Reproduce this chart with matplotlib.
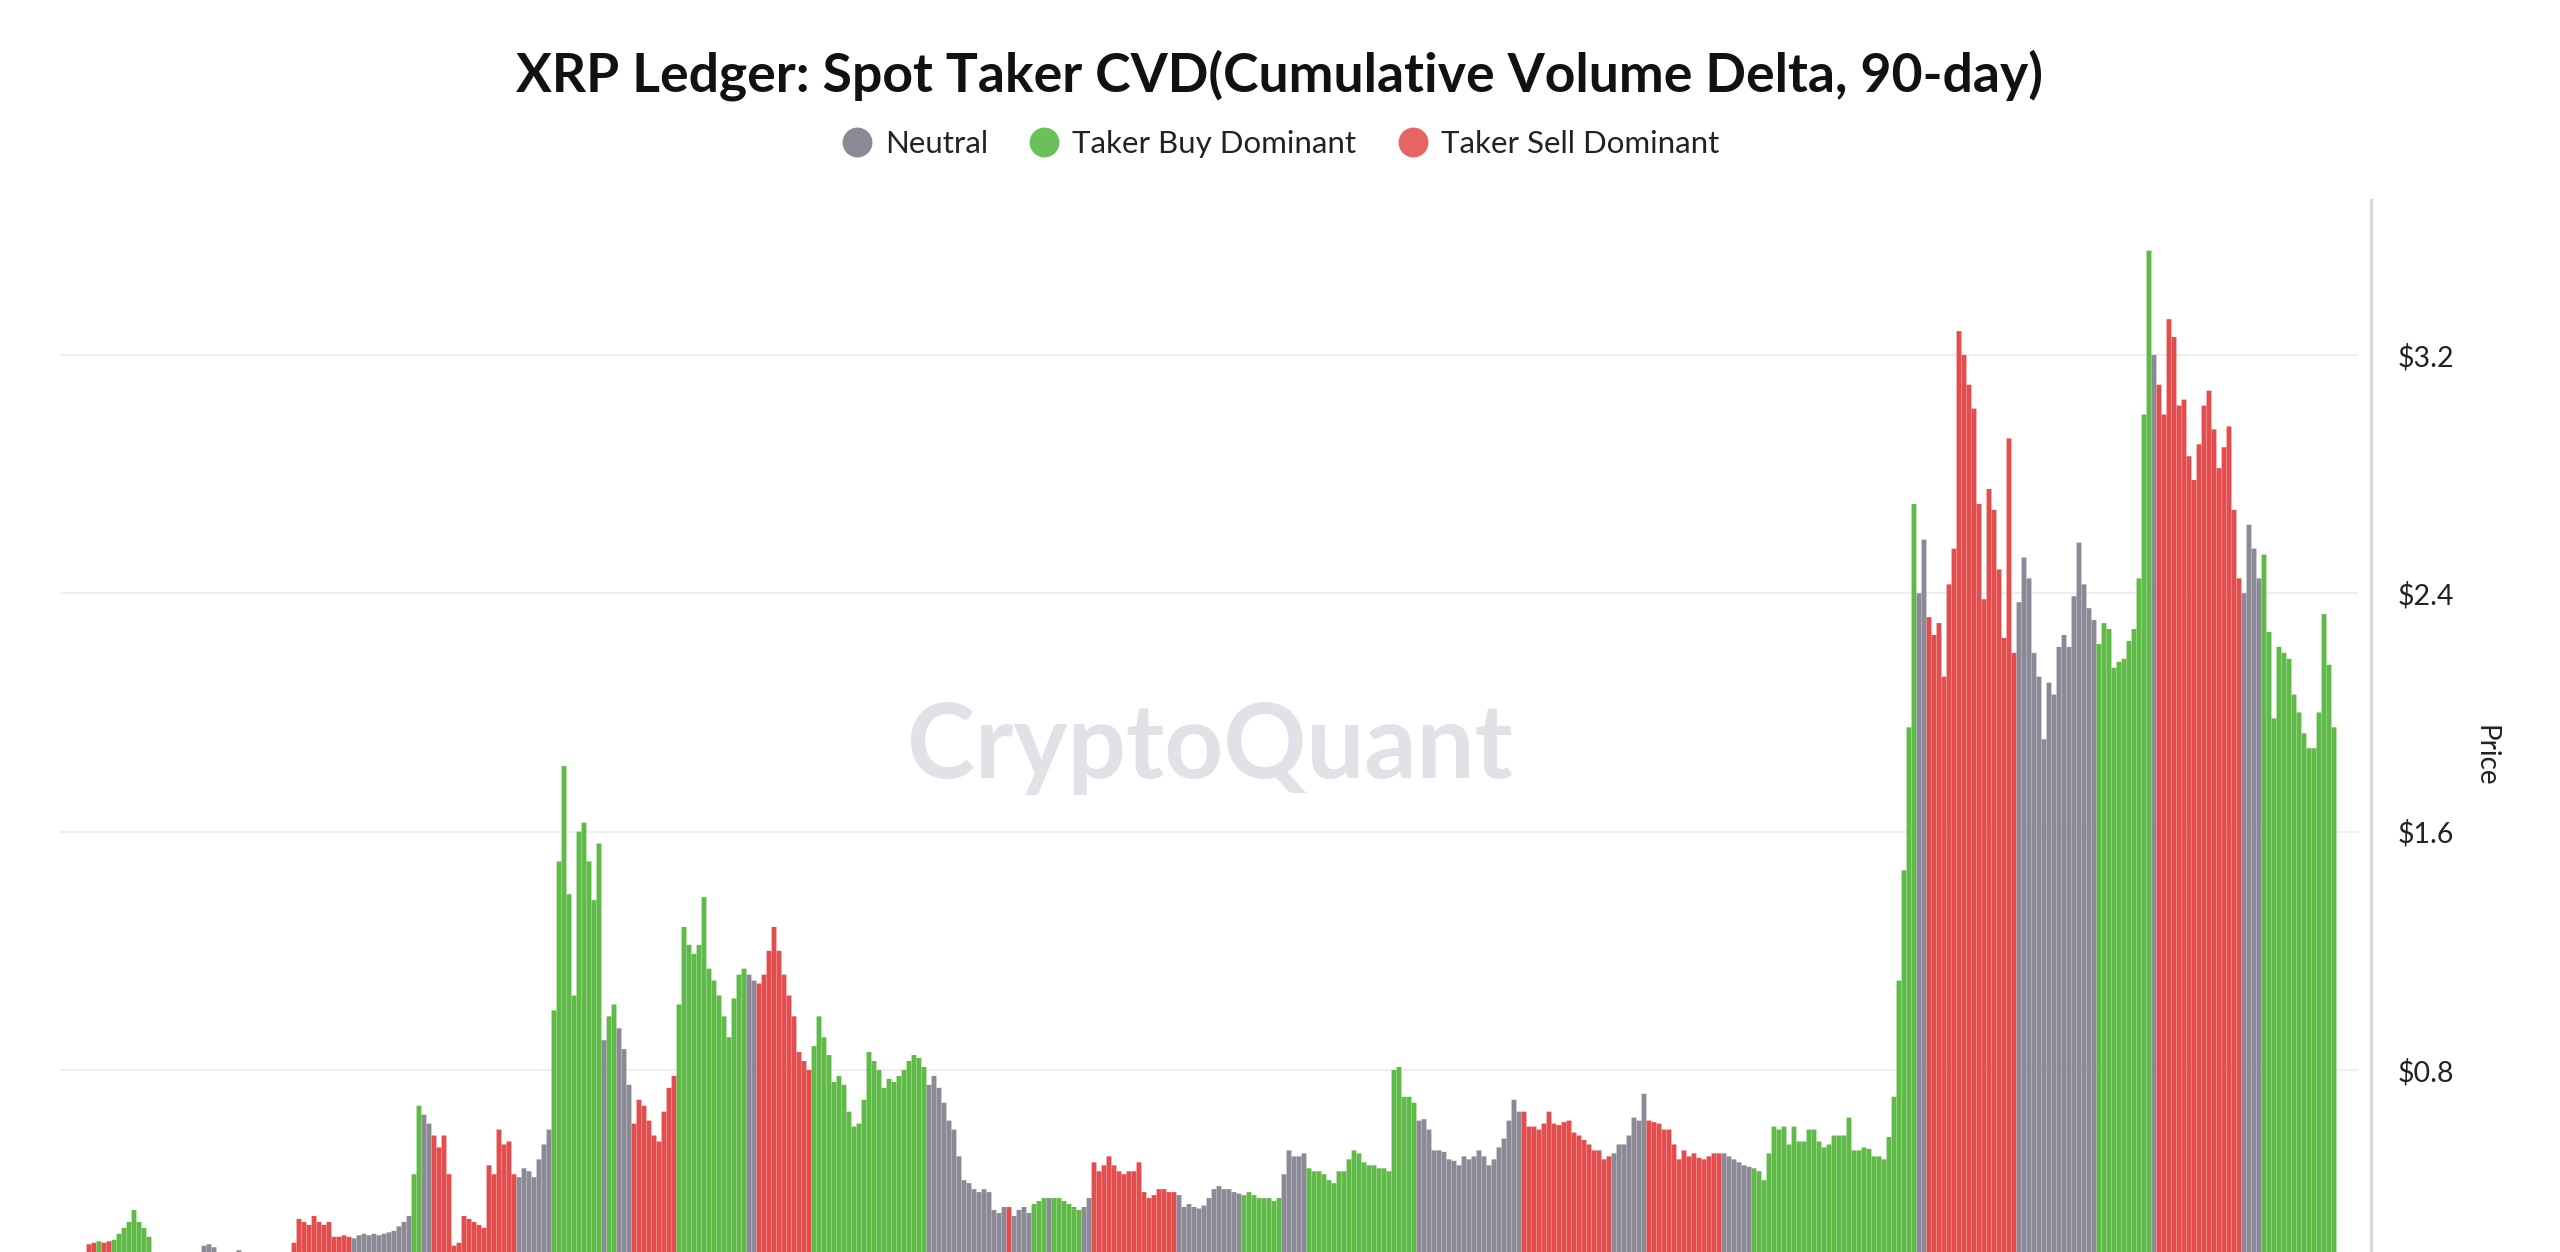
import matplotlib
matplotlib.use('Agg')
import matplotlib.pyplot as plt
from matplotlib.lines import Line2D

plt.rcParams['font.family'] = ['Lato', 'DejaVu Sans']

title = 'XRP Ledger: Spot Taker CVD(Cumulative Volume Delta, 90-day)'
legend_labels = ['Neutral', 'Taker Buy Dominant', 'Taker Sell Dominant']
price_ticks = [0.8, 1.6, 2.4, 3.2]
tick_labels = ['\\$0.8', '\\$1.6', '\\$2.4', '\\$3.2']

# regime of each bar, run-length: N = neutral, B = taker buy, S = taker sell
regime_runs = [
    ('S', 2), ('B', 1), ('S', 2), ('B', 8), ('N', 28), ('S', 12), ('N', 12),
    ('B', 2), ('N', 2), ('S', 17), ('N', 7), ('B', 10), ('N', 1), ('B', 2),
    ('N', 3), ('S', 9), ('B', 14), ('N', 2), ('S', 11), ('B', 23), ('N', 16),
    ('S', 1), ('N', 4), ('B', 3), ('N', 1), ('B', 6), ('N', 2), ('S', 17),
    ('N', 13), ('B', 8), ('N', 5), ('B', 22), ('N', 21), ('S', 18), ('N', 7),
    ('S', 15), ('N', 6), ('B', 33), ('N', 2), ('S', 18), ('N', 16), ('B', 11),
    ('N', 1), ('S', 17), ('N', 4), ('B', 15),
]

# XRP price (USD) per bar
xrp_price = [
    0.215, 0.22, 0.225, 0.22, 0.225,
    0.23, 0.25, 0.27, 0.29, 0.33, 0.29, 0.27, 0.24,
    0.18, 0.17, 0.17, 0.16, 0.16, 0.17, 0.175, 0.18, 0.17, 0.18,
    0.21, 0.215, 0.205,
    0.18, 0.18, 0.175, 0.18, 0.195, 0.18, 0.17, 0.17, 0.165, 0.17, 0.175, 0.18, 0.18, 0.175, 0.185,
    0.22, 0.30, 0.29, 0.28, 0.31, 0.29, 0.28, 0.29, 0.24, 0.24, 0.245, 0.24,
    0.235, 0.245, 0.25, 0.245, 0.25, 0.245, 0.25, 0.255, 0.26, 0.275, 0.29, 0.31,
    0.45, 0.68,
    0.65, 0.62,
    0.58, 0.54, 0.58, 0.45, 0.21, 0.22, 0.31, 0.30, 0.29, 0.28, 0.27,
    0.48, 0.45, 0.60, 0.55, 0.56, 0.45,
    0.44, 0.47, 0.46, 0.44, 0.50, 0.55, 0.60,
    1.00, 1.50, 1.82, 1.39, 1.05, 1.60, 1.63, 1.50, 1.37, 1.56,
    0.90, 0.98, 1.02, 0.94, 0.87, 0.75,
    0.62, 0.70, 0.68, 0.63, 0.58, 0.56, 0.66, 0.74, 0.78,
    1.02, 1.28, 1.22, 1.19, 1.22, 1.38, 1.14, 1.10, 1.05, 0.98, 0.91, 1.04, 1.12, 1.14,
    1.12, 1.10,
    1.09, 1.12, 1.20, 1.28, 1.20, 1.12, 1.05, 0.98, 0.86, 0.83, 0.80,
    0.88, 0.98, 0.91, 0.85, 0.76, 0.78, 0.75, 0.66, 0.61, 0.62, 0.70, 0.86,
    0.83, 0.80, 0.74, 0.77, 0.76, 0.78, 0.80, 0.83, 0.85, 0.84, 0.81,
    0.75, 0.78, 0.74, 0.69, 0.63, 0.60, 0.51, 0.43, 0.42, 0.40, 0.39, 0.40, 0.39, 0.33, 0.32, 0.34,
    0.34,
    0.31, 0.33, 0.34, 0.32,
    0.35, 0.36, 0.37,
    0.37,
    0.37, 0.37, 0.36, 0.35, 0.34, 0.33,
    0.34, 0.37,
    0.49, 0.46, 0.48, 0.51, 0.48, 0.46, 0.45, 0.46, 0.46, 0.49, 0.39, 0.37, 0.38, 0.40, 0.40, 0.39, 0.39,
    0.38, 0.34, 0.35, 0.34, 0.335, 0.345, 0.37, 0.40, 0.41, 0.40, 0.40, 0.39, 0.385,
    0.38, 0.39, 0.38, 0.37, 0.37, 0.37, 0.36, 0.37,
    0.45, 0.53, 0.51, 0.51, 0.52,
    0.47, 0.46, 0.46, 0.45, 0.43, 0.42, 0.46, 0.46, 0.50, 0.53, 0.52, 0.49, 0.48, 0.48, 0.47, 0.47, 0.46,
    0.80, 0.81, 0.71, 0.71, 0.69,
    0.63, 0.635, 0.60, 0.53, 0.53, 0.525, 0.50, 0.495, 0.48, 0.51, 0.50, 0.51, 0.53, 0.51, 0.48, 0.50,
    0.54, 0.57, 0.63, 0.70, 0.66,
    0.66, 0.61, 0.61, 0.60, 0.62, 0.66, 0.62, 0.615, 0.625, 0.63, 0.59, 0.58, 0.565, 0.55, 0.53, 0.53, 0.50, 0.51,
    0.52, 0.55, 0.55, 0.58, 0.64, 0.63, 0.72,
    0.63, 0.625, 0.62, 0.60, 0.60, 0.55, 0.50, 0.53, 0.51, 0.52, 0.505, 0.50, 0.51, 0.52, 0.52,
    0.52, 0.51, 0.50, 0.49, 0.48, 0.475,
    0.47, 0.46, 0.43, 0.52, 0.61, 0.60, 0.61, 0.55, 0.61, 0.56, 0.56, 0.60, 0.60, 0.56, 0.54, 0.55,
    0.58, 0.58, 0.58, 0.64, 0.53, 0.53, 0.54, 0.535, 0.51, 0.51, 0.50, 0.575, 0.71,
    1.10, 1.47, 1.95, 2.70,
    2.40, 2.58,
    2.32, 2.26, 2.30, 2.12, 2.43, 2.55, 3.28, 3.20, 3.10, 3.02, 2.70, 2.38, 2.75, 2.68, 2.48, 2.25, 2.92, 2.20,
    2.37, 2.52, 2.45, 2.20, 2.12, 1.91, 2.10, 2.06, 2.22, 2.26, 2.22, 2.39, 2.57, 2.43, 2.35, 2.31,
    2.23, 2.30, 2.28, 2.15, 2.17, 2.18, 2.24, 2.28, 2.45, 3.00, 3.55,
    3.20,
    3.10, 3.00, 3.32, 3.26, 3.03, 3.05, 2.86, 2.78, 2.90, 3.03, 3.08, 2.95, 2.82, 2.89, 2.96, 2.68, 2.45,
    2.40, 2.63, 2.55, 2.45,
    2.53, 2.27, 1.98, 2.22, 2.20, 2.18, 2.06, 2.00, 1.93, 1.88, 1.88, 2.00, 2.33, 2.16, 1.95,
]

bar_colors = {'N': '#8b8996', 'B': '#5fba47', 'S': '#e34d4d'}
legend_colors = ['#8a8a96', '#6cc05a', '#e86464']

regimes = []
for code, n in regime_runs:
    regimes += [code] * n
assert len(regimes) == len(xrp_price)

fig = plt.figure(figsize=(25.6, 12.52), dpi=100)
W, H = 2560, 1252
ax = fig.add_axes([60 / W, 0, (2371 - 60) / W, (H - 200) / H])

x = list(range(len(xrp_price)))
bars = ax.bar(x, xrp_price, width=0.97, color=[bar_colors[r] for r in regimes],
              linewidth=0, zorder=2)
for b in bars:
    b.set_snap(False)

ax.set_xlim(-5.8, 456.4)
ax.set_ylim(0.189, 3.72)

for v in price_ticks:
    ax.axhline(v, xmin=0, xmax=(2357 - 60) / (2371 - 60), color='#efefef',
               lw=1.5, zorder=0)

for side in ['top', 'left', 'bottom']:
    ax.spines[side].set_visible(False)
ax.spines['right'].set_color('#dadade')
ax.spines['right'].set_linewidth(2.5)

ax.yaxis.tick_right()
ax.set_yticks(price_ticks)
ax.set_yticklabels(tick_labels)
ax.tick_params(axis='y', length=0, pad=19, labelsize=20.5, labelcolor='#222222')
ax.tick_params(axis='x', bottom=False, labelbottom=False)

ax.text(1210 / W, 1 - 748 / H, 'CryptoQuant', transform=fig.transFigure,
        ha='center', va='center', fontsize=74, fontweight='bold',
        color='#e1e1e7', zorder=0.5)

fig.text(0.5, 1 - 75 / H, title, ha='center', va='center', fontsize=38.5,
         fontweight='bold', color='#111111')
fig.text(2485 / W, 1 - 756 / H, 'Price', rotation=270, ha='center',
         va='center', fontsize=20, color='#222222')

handles = [Line2D([], [], marker='o', ls='none', markersize=21.5,
                  markerfacecolor=c, markeredgewidth=0) for c in legend_colors]
fig.legend(handles, legend_labels, loc='center', bbox_to_anchor=(0.5, 1 - 144 / H),
           ncol=3, frameon=False, fontsize=22.5, handlelength=1.0,
           handletextpad=0.4, columnspacing=1.3, labelcolor='#222222')

fig.savefig('out.png', dpi=100, facecolor='white')
